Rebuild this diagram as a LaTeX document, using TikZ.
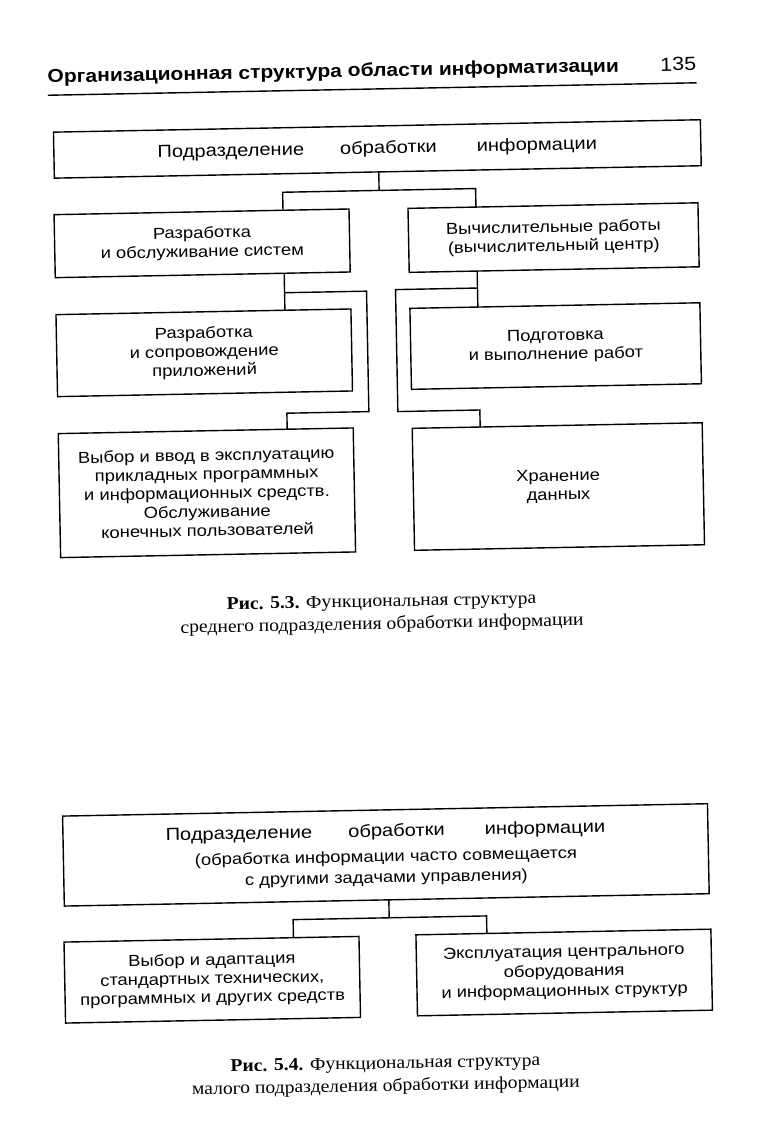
\documentclass[tikz,border=0pt]{standalone}
\usepackage{fontspec}
\setmainfont[FakeStretch=1.09]{Liberation Serif}
\newfontfamily\boxfont[FakeStretch=1.15]{Liberation Sans}
\newfontfamily\headfont[FakeStretch=1.13]{Liberation Sans}
\begin{document}
\begin{tikzpicture}[x=1pt,y=-1pt,
  box/.style={draw,line width=1.4pt,inner sep=0pt,outer sep=0pt,align=center,
    font=\boxfont\fontsize{16}{18.8}\selectfont},
  conn/.style={line width=1.4pt},
  capt/.style={align=center,font=\fontsize{18}{22.5}\selectfont},
  head/.style={inner sep=0pt,font=\headfont\bfseries\fontsize{18.6}{22}\selectfont}]
\newcommand\bigline{\fontsize{17.5}{20}\selectfont Подразделение\hspace{36pt}обработки\hspace{40pt}информации}
\fill[white] (0,0) rectangle (756,1148);
\useasboundingbox (0,0) rectangle (756,1148);
\begin{scope}[rotate around={1.1:(378,574)},transform shape]
% header
\node[head,anchor=base west] (title) at (57,76.5) {Организационная структура области информатизации};
\node[head,anchor=base east,font=\headfont\fontsize{19}{22}\selectfont] (page) at (706,76.5) {135};
\coordinate (rl) at (57,89);
\coordinate (rr) at (706,89);
\draw[conn] (rl) -- (rr);

% figure 5.3
\node[box,minimum width=647pt,minimum height=46pt] (top1) at (385.5,149) {\bigline};
\node[box,minimum width=295pt,minimum height=63pt] (A) at (208.5,240)
  {Разработка\\и обслуживание систем};
\node[box,minimum width=290pt,minimum height=64pt] (B) at (560,241)
  {Вычислительные работы\\(вычислительный центр)};
\node[box,minimum width=295pt,minimum height=82pt] (C) at (208.5,349.5)
  {Разработка\\и сопровождение\\приложений};
\node[box,minimum width=290pt,minimum height=81pt] (E) at (560,349.5)
  {Подготовка\\и выполнение работ};
\node[box,minimum width=295pt,minimum height=124pt] (D) at (208.5,489.5)
  {Выбор и ввод в эксплуатацию\\прикладных программных\\и информационных средств.\\Обслуживание\\конечных пользователей};
\node[box,minimum width=290pt,minimum height=122pt] (F) at (560,490)
  {Хранение\\данных};

\coordinate (j1) at (386.5,190.5);
\coordinate (jA) at (290,190.5);
\coordinate (jB) at (483,190.5);
\draw[conn] (top1.south -| j1) -- (j1);
\draw[conn] (A.north -| jA) -- (jA) -- (jB) -- (B.north -| jB);

\coordinate (la) at (290,291);
\coordinate (lb) at (372,291);
\coordinate (lc) at (372,411.5);
\coordinate (ld) at (290,411.5);
\draw[conn] (A.south -| la) -- (C.north -| la);
\draw[conn] (la) -- (lb) -- (lc) -- (ld) -- (D.north -| ld);

\coordinate (ra) at (483,290);
\coordinate (rb) at (401,290);
\coordinate (rc) at (401,412);
\coordinate (rd) at (483,412);
\draw[conn] (B.south -| ra) -- (E.north -| ra);
\draw[conn] (ra) -- (rb) -- (rc) -- (rd) -- (F.north -| rd);

\node[capt] (cap3) at (381,614)
  {\textbf{Рис. 5.3.} Функциональная структура\\среднего подразделения обработки информации};

% figure 5.4
\node[box,minimum width=645pt,minimum height=90pt,font=\boxfont\fontsize{16}{21}\selectfont] (G) at (380.5,855)
  {\bigline\\[4pt](обработка информации часто совмещается\\с другими задачами управления)};
\node[box,minimum width=295pt,minimum height=81pt] (H) at (204.5,976.5)
  {Выбор и адаптация\\стандартных технических,\\программных и других средств};
\node[box,minimum width=295pt,minimum height=81pt,font=\boxfont\fontsize{16}{19.5}\selectfont] (I) at (556.5,976)
  {Эксплуатация центрального\\оборудования\\и информационных структур};

\coordinate (j2) at (382.6,918);
\coordinate (jH) at (286.5,918);
\coordinate (jI) at (480,918);
\draw[conn] (G.south -| j2) -- (j2);
\draw[conn] (H.north -| jH) -- (jH) -- (jI) -- (I.north -| jI);

\node[capt] (cap4) at (376,1076)
  {\textbf{Рис. 5.4.} Функциональная структура\\малого подразделения обработки информации};
\end{scope}
\end{tikzpicture}
\end{document}
